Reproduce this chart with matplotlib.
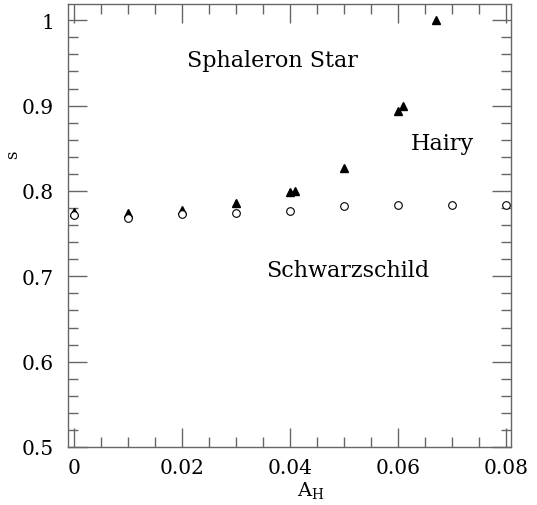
import matplotlib
matplotlib.use("Agg")
import matplotlib.pyplot as plt
from matplotlib.ticker import MultipleLocator

# hairy (sphaleron star) branch, filled triangles
hairy_x = [0.0, 0.01, 0.02, 0.03, 0.04, 0.041, 0.05, 0.06, 0.061, 0.067]
hairy_s = [0.775, 0.774, 0.778, 0.786, 0.799, 0.800, 0.827, 0.894, 0.900, 1.0]

# Schwarzschild branch, open circles
schw_x = [0.0, 0.01, 0.02, 0.03, 0.04, 0.05, 0.06, 0.07, 0.08]
schw_s = [0.772, 0.768, 0.773, 0.774, 0.776, 0.782, 0.783, 0.784, 0.784]

plt.rcParams["font.family"] = ["DejaVu Serif"]
plt.rcParams["mathtext.fontset"] = "dejavuserif"

fig = plt.figure(figsize=(5.37, 5.06), dpi=100)
ax = fig.add_axes([68 / 537, 1 - 448 / 506, (511 - 68) / 537, (448 - 5) / 506])

ax.plot(hairy_x, hairy_s, linestyle="none", marker="^", markersize=5.5,
        color="black", clip_on=False)
ax.plot(schw_x, schw_s, linestyle="none", marker="o", markersize=5.5,
        markerfacecolor="white", markeredgecolor="black", markeredgewidth=0.8,
        clip_on=False)

ax.set_xlim(-0.0011, 0.0809)
ax.set_ylim(0.5, 1.019)

ax.xaxis.set_major_locator(MultipleLocator(0.02))
ax.xaxis.set_minor_locator(MultipleLocator(0.005))
ax.yaxis.set_major_locator(MultipleLocator(0.1))
ax.yaxis.set_minor_locator(MultipleLocator(0.02))
ax.xaxis.set_major_formatter(plt.FuncFormatter(lambda v, p: f"{v:g}"))
ax.yaxis.set_major_formatter(plt.FuncFormatter(lambda v, p: f"{v:g}"))

gray = "#666666"
for sp in ax.spines.values():
    sp.set_color(gray)
    sp.set_linewidth(1.0)
ax.tick_params(which="both", direction="in", top=True, right=True,
               color=gray, labelsize=14.5)
ax.tick_params(which="major", length=14, width=1.0)
ax.tick_params(axis="y", which="major", pad=10)
ax.tick_params(axis="x", which="major", pad=8)
ax.tick_params(which="minor", length=7, width=1.0)

ax.set_xlabel(r"A$_{\rm H}$", fontsize=14)
ax.xaxis.set_label_coords((311 - 68) / 443, (448 - 480) / 443)
ax.set_ylabel("s", fontsize=12, rotation=90)
ax.yaxis.set_label_coords((21 - 68) / 443, (448 - 155) / 443)

ax.text(0.0368, 0.946, "Sphaleron Star", fontsize=16, ha="center", va="baseline")
ax.text(0.0681, 0.849, "Hairy", fontsize=16, ha="center", va="baseline")
ax.text(0.0506, 0.7006, "Schwarzschild", fontsize=16, ha="center", va="baseline")

fig.savefig("out.png", dpi=100)
